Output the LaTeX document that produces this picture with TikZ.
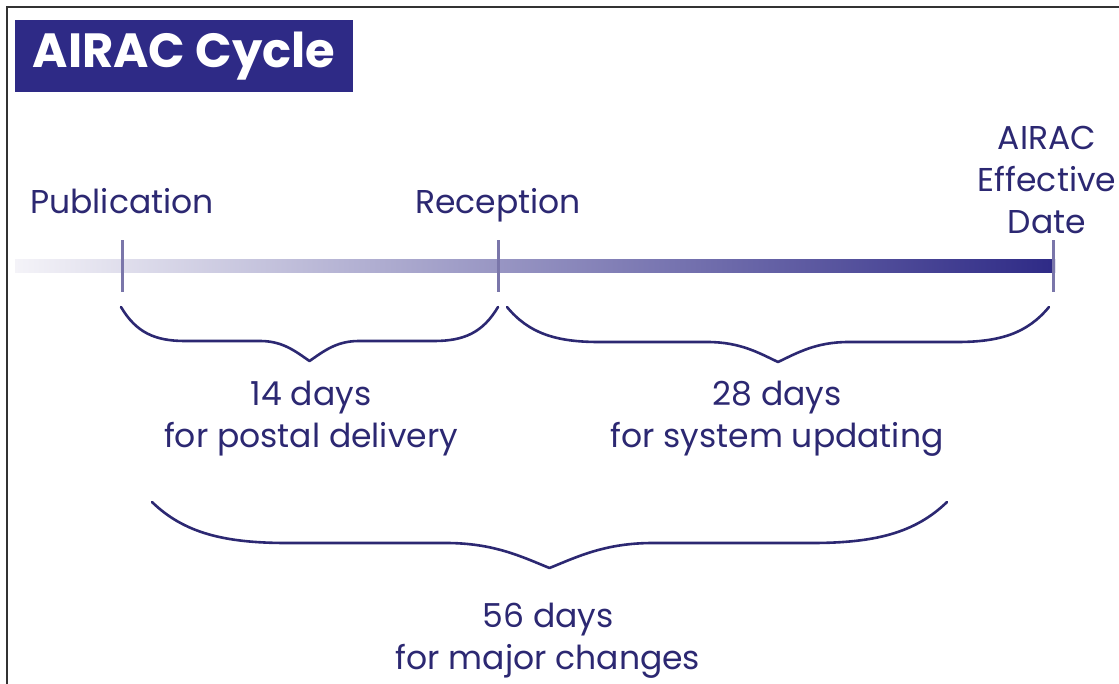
\documentclass[tikz,border=0pt]{standalone}
\usepackage{fontspec}
\setmainfont{Poppins}
\usetikzlibrary{positioning}

\definecolor{airacnavy}{HTML}{2E2A86}
\definecolor{airactext}{HTML}{2C2872}
\definecolor{airactick}{HTML}{7A76AA}
\definecolor{airacpale}{HTML}{F4F3F8}

\tikzset{
  timelabel/.style={text=airactext, font=\fontsize{33}{42}\selectfont, align=center, inner sep=0pt},
  tickmark/.style={draw=airactick, line width=3pt},
  spanline/.style={draw=airactext, line width=2.6pt, line cap=round, line join=round}
}

% llave horizontal: #1 x izq., #2 x der., #3 y extremos, #4 y tramo recto, #5 y punta
\newcommand{\spanbrace}[5]{%
  \pgfmathsetmacro{\bw}{#2-#1}
  \pgfmathsetmacro{\bc}{(#1+#2)/2}
  \pgfmathsetmacro{\by}{#3+0.75*(#4-#3)}
  \pgfmathsetmacro{\bt}{#4+0.55*(#5-#4)}
  \draw[spanline] (#1,#3)
    .. controls ({#1+0.04*\bw},\by) and ({#1+0.09*\bw},#4) .. ({#1+0.17*\bw},#4)
    -- ({\bc-0.13*\bw},#4)
    .. controls ({\bc-0.07*\bw},#4) and ({\bc-0.035*\bw},\bt) .. (\bc,#5)
    .. controls ({\bc+0.035*\bw},\bt) and ({\bc+0.07*\bw},#4) .. ({\bc+0.13*\bw},#4)
    -- ({#2-0.17*\bw},#4)
    .. controls ({#2-0.09*\bw},#4) and ({#2-0.04*\bw},\by) .. (#2,#3);
}

\begin{document}
\begin{tikzpicture}[x=1pt,y=-1pt]
        % Paso 1: Fija el lienzo y el marco
        \useasboundingbox (0,0) rectangle (1119,683);
        \fill[white] (0,0) rectangle (1119,683);
        \draw[black!80, line width=2.5pt] (1130,7) -- (7,7) -- (7,690);

        % Paso 2: Titulo
        \node[fill=airacnavy, text=white, font=\fontsize{48}{52}\selectfont\bfseries,
              minimum width=338pt, minimum height=72pt, inner sep=0pt] (title) at (184,56) {AIRAC Cycle};

        % Paso 3: Barra de tiempo con degradado
        \shade[left color=airacpale, right color=airacnavy] (15,259) rectangle (1055,272);

        % Paso 4: Marcas de los hitos
        \coordinate (pub) at (122,266);
        \coordinate (rec) at (498,266);
        \coordinate (eff) at (1053,266);
        \foreach \p in {pub,rec,eff}
          \draw[tickmark] ([yshift=26pt]\p) -- ([yshift=-26pt]\p);

        % Paso 5: Etiquetas de los hitos
        \node[timelabel, anchor=base] (publab) at (122,213) {Publication};
        \node[timelabel, anchor=base] (reclab) at (498,213) {Reception};
        \node[timelabel] (efflab) at (1047,180) {AIRAC\\Effective\\Date};

        % Paso 6: Llaves de los plazos
        \spanbrace{121}{498}{307}{341}{361}
        \spanbrace{507}{1049}{307}{342}{362}
        \spanbrace{152}{947}{502}{543}{568}

        % Paso 7: Textos de los plazos
        \node[timelabel] (postal) at (311,419) {14 days\\for postal delivery};
        \node[timelabel] (system) at (777,419) {28 days\\for system updating};
        \node[timelabel] (major) at (548,641) {56 days\\for major changes};
\end{tikzpicture}
\end{document}
